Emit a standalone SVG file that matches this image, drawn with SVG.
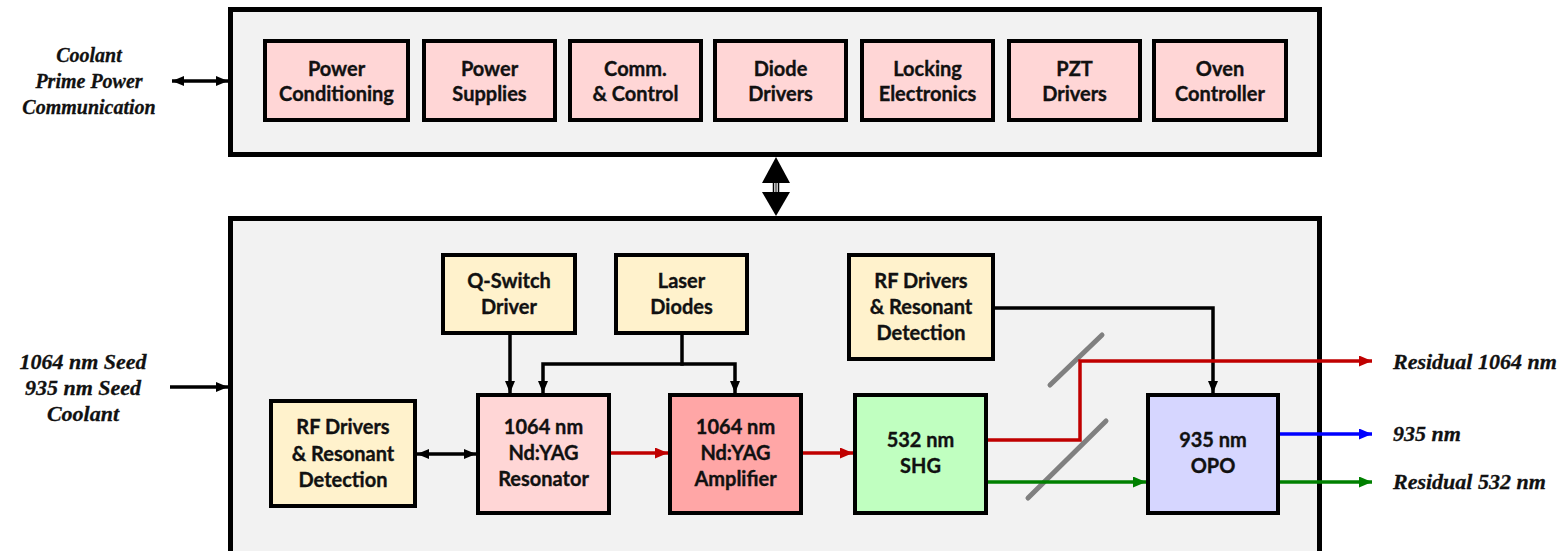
<svg xmlns="http://www.w3.org/2000/svg" width="1560" height="551" viewBox="0 0 1560 551">
  <style>
    .frame { fill: #f2f2f2; stroke: #000; stroke-width: 5; }
    .box { stroke: #000; stroke-width: 4; }
    .pink { fill: #ffd6d6; }
    .amp { fill: #ffa6a6; }
    .cream { fill: #fff2cc; }
    .green { fill: #c0ffc0; }
    .violet { fill: #d6d6ff; }
    .lbl { font-family: Lato, "Liberation Sans", sans-serif; font-weight: bold; font-size: 20px; fill: #111; stroke: #111; stroke-width: 0.35; text-anchor: middle; }
    .io { font-family: "Liberation Serif", serif; font-style: italic; font-weight: bold; font-size: 20px; fill: #111; stroke: #111; stroke-width: 0.3; }
    .io.big { font-size: 22px; }
    .wire { fill: none; stroke: #000; stroke-width: 3.5; }
    .red { fill: none; stroke: #c00000; stroke-width: 3.5; }
    .grn { fill: none; stroke: #008000; stroke-width: 3.5; }
    .blu { fill: none; stroke: #0000ff; stroke-width: 3.5; }
    .mirror { stroke: #808080; stroke-width: 5; stroke-linecap: round; }
  </style>
  <defs>
    <marker id="ah" viewBox="0 0 12 10" refX="12" refY="5" markerWidth="12" markerHeight="11" markerUnits="userSpaceOnUse" orient="auto-start-reverse">
      <path d="M0,0 L12,5 L0,10 Z" fill="#000"/>
    </marker>
    <marker id="ahRed" viewBox="0 0 13 11" refX="13" refY="5.5" markerWidth="13" markerHeight="11" markerUnits="userSpaceOnUse" orient="auto">
      <path d="M0,0 L13,5.5 L0,11 Z" fill="#c00000"/>
    </marker>
    <marker id="ahGrn" viewBox="0 0 13 11" refX="13" refY="5.5" markerWidth="13" markerHeight="11" markerUnits="userSpaceOnUse" orient="auto">
      <path d="M0,0 L13,5.5 L0,11 Z" fill="#008000"/>
    </marker>
    <marker id="ahBlu" viewBox="0 0 13 11" refX="13" refY="5.5" markerWidth="13" markerHeight="11" markerUnits="userSpaceOnUse" orient="auto">
      <path d="M0,0 L13,5.5 L0,11 Z" fill="#0000ff"/>
    </marker>
  </defs>

  <rect width="1560" height="551" fill="#fff"/>

  <!-- electronics enclosure -->
  <g id="electronics">
    <rect class="frame" x="230.5" y="9.5" width="1089" height="145"/>
  </g>
  <!-- optical head enclosure -->
  <g id="optics">
    <rect class="frame" x="230.5" y="218.5" width="1089" height="345"/>
  </g>

  <!-- electronics modules -->
  <g id="power-conditioning">
    <rect class="box pink" x="265" y="41" width="143" height="79"/>
    <text class="lbl" x="336.5" y="76">Power</text>
    <text class="lbl" x="336.5" y="101">Conditioning</text>
  </g>
  <g id="power-supplies">
    <rect class="box pink" x="424" y="41" width="131" height="79"/>
    <text class="lbl" x="489.5" y="76">Power</text>
    <text class="lbl" x="489.5" y="101">Supplies</text>
  </g>
  <g id="comm-control">
    <rect class="box pink" x="570" y="41" width="131" height="79"/>
    <text class="lbl" x="635.5" y="76">Comm.</text>
    <text class="lbl" x="635.5" y="101">&amp; Control</text>
  </g>
  <g id="diode-drivers">
    <rect class="box pink" x="715" y="41" width="131" height="79"/>
    <text class="lbl" x="780.5" y="76">Diode</text>
    <text class="lbl" x="780.5" y="101">Drivers</text>
  </g>
  <g id="locking-electronics">
    <rect class="box pink" x="862" y="41" width="131" height="79"/>
    <text class="lbl" x="927.5" y="76">Locking</text>
    <text class="lbl" x="927.5" y="101">Electronics</text>
  </g>
  <g id="pzt-drivers">
    <rect class="box pink" x="1009" y="41" width="131" height="79"/>
    <text class="lbl" x="1074.5" y="76">PZT</text>
    <text class="lbl" x="1074.5" y="101">Drivers</text>
  </g>
  <g id="oven-controller">
    <rect class="box pink" x="1154" y="41" width="132" height="79"/>
    <text class="lbl" x="1220" y="76">Oven</text>
    <text class="lbl" x="1220" y="101">Controller</text>
  </g>

  <!-- optical head modules -->
  <g id="rf-drivers-resonator">
    <rect class="box cream" x="271" y="401" width="144" height="105"/>
    <text class="lbl" x="343" y="434">RF Drivers</text>
    <text class="lbl" x="343" y="460.5">&amp; Resonant</text>
    <text class="lbl" x="343" y="487">Detection</text>
  </g>
  <g id="q-switch-driver">
    <rect class="box cream" x="443" y="255" width="132" height="78"/>
    <text class="lbl" x="509" y="288">Q-Switch</text>
    <text class="lbl" x="509" y="314">Driver</text>
  </g>
  <g id="laser-diodes">
    <rect class="box cream" x="616" y="255" width="131" height="78"/>
    <text class="lbl" x="681.5" y="288">Laser</text>
    <text class="lbl" x="681.5" y="314">Diodes</text>
  </g>
  <g id="rf-drivers-opo">
    <rect class="box cream" x="849" y="255" width="144" height="104"/>
    <text class="lbl" x="921" y="288">RF Drivers</text>
    <text class="lbl" x="921" y="314">&amp; Resonant</text>
    <text class="lbl" x="921" y="340">Detection</text>
  </g>
  <g id="resonator">
    <rect class="box pink" x="478" y="395" width="131" height="118"/>
    <text class="lbl" x="543.5" y="434">1064 nm</text>
    <text class="lbl" x="543.5" y="460">Nd:YAG</text>
    <text class="lbl" x="543.5" y="486">Resonator</text>
  </g>
  <g id="amplifier">
    <rect class="box amp" x="670" y="395" width="131" height="118"/>
    <text class="lbl" x="735.5" y="434">1064 nm</text>
    <text class="lbl" x="735.5" y="460">Nd:YAG</text>
    <text class="lbl" x="735.5" y="486">Amplifier</text>
  </g>
  <g id="shg">
    <rect class="box green" x="855" y="395" width="131" height="118"/>
    <text class="lbl" x="920.5" y="447">532 nm</text>
    <text class="lbl" x="920.5" y="473">SHG</text>
  </g>
  <g id="opo">
    <rect class="box violet" x="1148" y="395" width="130" height="118"/>
    <text class="lbl" x="1213" y="447">935 nm</text>
    <text class="lbl" x="1213" y="473">OPO</text>
  </g>

  <!-- dichroic mirrors -->
  <g id="mirrors">
    <line class="mirror" x1="1050" y1="385" x2="1102" y2="335"/>
    <line class="mirror" x1="1028" y1="498" x2="1106" y2="421"/>
  </g>

  <!-- external interface labels -->
  <g id="labels">
    <text class="io" x="89" y="62" text-anchor="middle">Coolant</text>
    <text class="io" x="89" y="88" text-anchor="middle">Prime Power</text>
    <text class="io" x="89" y="114" text-anchor="middle">Communication</text>
    <text class="io big" x="83" y="369" text-anchor="middle">1064 nm Seed</text>
    <text class="io big" x="83" y="395" text-anchor="middle">935 nm Seed</text>
    <text class="io big" x="83" y="421" text-anchor="middle">Coolant</text>
    <text class="io big" x="1393" y="369">Residual 1064 nm</text>
    <text class="io big" x="1393" y="441">935 nm</text>
    <text class="io big" x="1393" y="489">Residual 532 nm</text>
  </g>

  <!-- connectors -->
  <g id="connectors">
    <!-- services in/out of electronics -->
    <line class="wire" x1="172" y1="81" x2="228" y2="81" marker-start="url(#ah)" marker-end="url(#ah)"/>
    <!-- seeds and coolant into optical head -->
    <line class="wire" x1="170" y1="387" x2="228" y2="387" marker-end="url(#ah)"/>
    <!-- electronics to optical head harness -->
    <path d="M776,157 L790,183 L762,183 Z" fill="#000"/>
    <path d="M776,216 L790,192 L762,192 Z" fill="#000"/>
    <line x1="773.5" y1="183" x2="773.5" y2="192" stroke="#000" stroke-width="1.5"/>
    <line x1="776" y1="183" x2="776" y2="192" stroke="#000" stroke-width="1"/>
    <line x1="778.5" y1="183" x2="778.5" y2="192" stroke="#000" stroke-width="1.5"/>
    <!-- control lines -->
    <line class="wire" x1="417" y1="454" x2="476" y2="454" marker-start="url(#ah)" marker-end="url(#ah)"/>
    <line class="wire" x1="510" y1="335" x2="510" y2="393" marker-end="url(#ah)"/>
    <line class="wire" x1="682" y1="335" x2="682" y2="365.75"/>
    <path class="wire" d="M543,393 V364 H735 V393" marker-start="url(#ah)" marker-end="url(#ah)"/>
    <path class="wire" d="M995,308 H1213 V393" marker-end="url(#ah)"/>
    <!-- 1064 nm beam -->
    <line class="red" x1="611" y1="453" x2="668" y2="453" marker-end="url(#ahRed)"/>
    <line class="red" x1="803" y1="453" x2="853" y2="453" marker-end="url(#ahRed)"/>
    <path class="red" d="M988,440 H1080 V361 H1372" marker-end="url(#ahRed)"/>
    <!-- 532 nm beam -->
    <line class="grn" x1="988" y1="482" x2="1146" y2="482" marker-end="url(#ahGrn)"/>
    <line class="grn" x1="1280" y1="482" x2="1372" y2="482" marker-end="url(#ahGrn)"/>
    <!-- 935 nm beam -->
    <line class="blu" x1="1280" y1="434" x2="1372" y2="434" marker-end="url(#ahBlu)"/>
  </g>
</svg>
